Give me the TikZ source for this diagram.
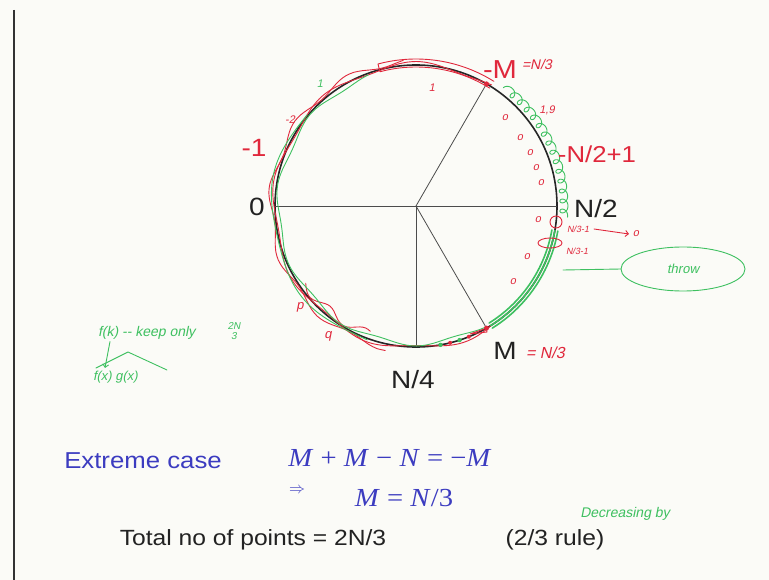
\RequirePackage{fix-cm}
\documentclass[tikz,border=0pt]{standalone}
\usepackage{fontspec}
\setmainfont{Liberation Sans}[FakeStretch=1.12]
\newfontfamily\handfont{Liberation Sans}[FakeSlant=0.2]
\newfontfamily\mathlike{Liberation Serif}[FakeStretch=1.1]
\usetikzlibrary{arrows.meta,shapes.geometric}
\definecolor{inkred}{HTML}{E0283C}
\definecolor{inkgreen}{HTML}{3EC060}
\definecolor{slideblue}{HTML}{3C3CC0}
\definecolor{paper}{HTML}{FBFBF7}
\definecolor{slideblack}{HTML}{222222}
\begin{document}
\begin{tikzpicture}[x=1pt,y=-1pt,
  every node/.style={inner sep=0pt, outer sep=0pt},
  big/.style={font=\fontsize{25}{28}\selectfont, text=slideblack},
  redbig/.style={font=\fontsize{25}{28}\selectfont, text=inkred},
  hand/.style={font=\handfont\fontsize{11}{12}\selectfont},
  redhand/.style={hand, text=inkred},
  greenhand/.style={hand, text=inkgreen},
  redink/.style={draw=inkred, line width=0.9pt, line cap=round, line join=round},
  greenink/.style={draw=inkgreen, line width=0.9pt, line cap=round, line join=round},
  spoke/.style={draw=black!70, line width=0.8pt},
  slide/.style={font=\fontsize{23}{26}\selectfont},
  eqn/.style={text=slideblue, font=\mathlike\fontsize{26}{28}\selectfont}
]
\useasboundingbox (0,0) rectangle (769,580);
\fill[paper] (0,0) rectangle (769,580);
\draw[line width=1.4pt, black!80] (14,10) -- (14,580);

% main circle and spokes
\node[circle, draw=black!85, line width=1.6pt, minimum size=282pt] (circ) at (416,206) {};
\foreach \a in {0,60,180,270,300} \draw[spoke] (circ.center) -- (circ.\a);

% hand-drawn red strands
\draw[redink] plot[smooth, samples=70, domain=58:302]
  ({416+(142+2.5*sin(9*\x))*cos(\x)}, {206-(142+2.5*sin(9*\x))*sin(\x)});
\draw[redink] plot[smooth, samples=50, domain=95:258]
  ({416+(145+3*sin(13*\x))*cos(\x)}, {206-(145+3*sin(13*\x))*sin(\x)});
\draw[redink] plot[smooth, samples=20, domain=58:105]
  ({416+147*cos(\x)}, {206-147*sin(\x)}) --
  plot[smooth, samples=20, domain=105:58]
  ({416+139*cos(\x)}, {206-139*sin(\x)});
\draw[redink] plot[smooth, samples=30, domain=215:250]
  ({416+(136+4*sin(20*\x))*cos(\x)}, {206-(136+4*sin(20*\x))*sin(\x)});

% hand-drawn green strands
\draw[greenink] plot[smooth, samples=60, domain=110:300]
  ({416+(138+2*sin(11*\x))*cos(\x)}, {206-(138+2*sin(11*\x))*sin(\x)});
\draw[greenink] plot[smooth, samples=30, domain=140:250]
  ({416+(144+2*sin(7*\x))*cos(\x)}, {206-(144+2*sin(7*\x))*sin(\x)});
\draw[greenink] plot[samples=320, domain=52:-4]
  ({416+(148+4*cos(92*\x))*cos(\x+1.6*sin(92*\x))}, {206-(148+4*cos(92*\x))*sin(\x+1.6*sin(92*\x))});
\foreach \r in {138,141,144}
  \draw[draw=inkgreen, line width=1.6pt, line cap=round]
    plot[smooth, samples=20, domain=-10:-58] ({416+\r*cos(\x)}, {206-\r*sin(\x)});

% dots and marks at M and -M
\fill[inkred] (circ.60) circle (2.5);
\fill[inkred] (circ.300) circle (2.5);
\draw[redink] (circ.300) -- (470,334) -- (487,332) -- cycle;
\foreach \a in {280,288} \fill[inkgreen] ({416+141*cos(\a)},{206-141*sin(\a)}) circle (2.2);
\foreach \a in {284,292} \fill[inkred] ({416+141*cos(\a)},{206-141*sin(\a)}) circle (2);

% circle labels
\node[redbig, font=\fontsize{26}{28}\selectfont] (negM) at (500,70) {-M};
\node[redhand, font=\handfont\fontsize{14}{14}\selectfont, anchor=west] (negMeq) at (522,64) {=N/3};
\node[redbig, font=\fontsize{23}{26}\selectfont] (nhalf1) at (597,154) {-N/2+1};
\node[big] (nhalf) at (596,209) {N/2};
\node[big] (zero) at (257,207) {0};
\node[redbig] (minus1) at (254,148) {-1};
\node[big] (nquart) at (413,380) {N/4};
\node[big] (mM) at (505,351) {M};
\node[redhand, font=\handfont\fontsize{16}{16}\selectfont, anchor=west] (mMeq) at (526,353) {= N/3};

% small hand notes on the circle
\node[redhand] (r1) at (432,88) {1};
\node[redhand] (r2) at (290,120) {-2};
\node[greenhand] (g1) at (320,84) {1};
\node[redhand, font=\handfont\fontsize{13}{13}\selectfont] (pp) at (300,307) {p};
\node[redhand, font=\handfont\fontsize{13}{13}\selectfont] (qq) at (328,336) {q};
\node[redhand] (n19) at (547,110) {1,9};
\foreach \p [count=\i] in {(505,118),(520,138),(530,153),(536,168),(541,183),(538,220),(527,257),(513,282)}
  \node[redhand] (ro\i) at \p {o};
\draw[redink] (556,222) circle (6);
\draw[redink] (550,243) ellipse (12 and 5);
\node[redhand, font=\handfont\fontsize{9}{9}\selectfont] (n31a) at (578,229) {N/3-1};
\node[redhand] (zo) at (636,234) {o};
\draw[redink, -{Straight Barb[length=3pt]}] ([xshift=5pt]n31a.east) -- ([xshift=-4pt]zo.west);
\node[redhand, font=\handfont\fontsize{9}{9}\selectfont] (n31b) at (577,251) {N/3-1};

% throw note
\node[ellipse, draw=inkgreen, line width=0.9pt, minimum width=124pt, minimum height=44pt,
  greenhand, font=\handfont\fontsize{13}{14}\selectfont] (throw) at (683,269) {throw};
\coordinate (thrS) at (563,270);
\draw[greenink] (thrS) -- (throw.west);

% left green notes
\node[greenhand, font=\handfont\fontsize{14}{15}\selectfont, anchor=west] (fk) at (98,333) {f(k) -- keep only};
\node[greenhand, font=\handfont\fontsize{10}{10}\selectfont] (frac) at (234,331) {\shortstack{2N\\3}};
\node[greenhand, font=\handfont\fontsize{13}{14}\selectfont, anchor=west] (fg) at (93,377) {f(x) g(x)};
\coordinate (hatL) at (96,368);
\coordinate (hatT) at (128,352);
\coordinate (hatR) at (167,370);
\draw[greenink] (hatL) -- (hatT) -- (hatR);
\draw[greenink, -{Straight Barb[length=3pt]}] ([xshift=12pt,yshift=-2pt]fk.south west) -- ([xshift=12pt,yshift=3pt]fg.north west);

% bottom text
\node[slide, text=slideblue] (ext) at (143,461) {Extreme case};
\node[eqn] (eq1) at (390,458) {\textit{M} + \textit{M} − \textit{N} = −\textit{M}};
\node[text=slideblue, font=\fontsize{16}{18}\selectfont] (impl) at (297,491) {$\Rightarrow$};
\node[eqn] (eq2) at (404,498) {\textit{M} = \textit{N}/3};
\node[font=\fontsize{22}{24}\selectfont, text=slideblack] (tot) at (253,540) {Total no of points = 2N/3};
\node[font=\fontsize{22}{24}\selectfont, text=slideblack] (rule) at (555,540) {(2/3 rule)};
\node[greenhand, font=\handfont\fontsize{14}{15}\selectfont] (decr) at (625,514) {Decreasing by};
\end{tikzpicture}
\end{document}
